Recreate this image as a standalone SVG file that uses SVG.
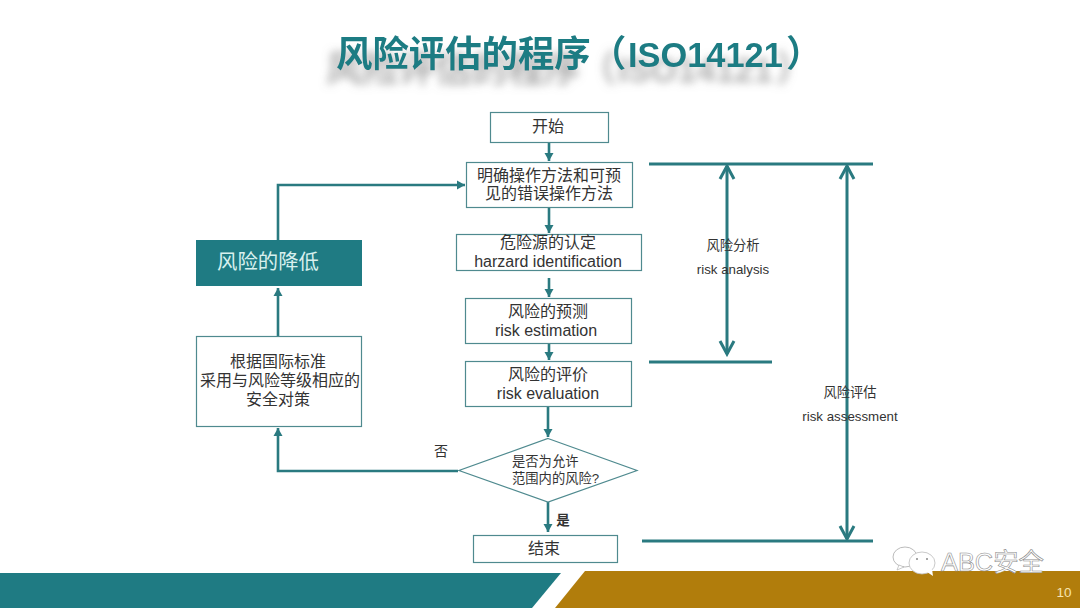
<svg xmlns="http://www.w3.org/2000/svg" width="1080" height="608" viewBox="0 0 1080 608">
<style>
text{font-family:"Liberation Sans","Noto Sans CJK SC",sans-serif;fill:#333;text-anchor:middle}
.box{fill:#fff;stroke:#4f8a8f;stroke-width:1.2}
.t{font-size:16px}
.s{font-size:13.300px}
.l{font-size:13.300px}
.c{fill:none;stroke:#2a7a80;stroke-width:2.6}
.d{fill:none;stroke:#2a7a80;stroke-width:3}
.title{font-size:36.400px;font-weight:700;text-anchor:start;fill:#1f7b83}
.wm{font-size:25.400px;fill:#fff;stroke:#8a8a8a;stroke-width:.6;text-anchor:start}
</style>
<defs>
<marker id="a" markerUnits="userSpaceOnUse" markerWidth="10" markerHeight="10" refX="8" refY="5" orient="auto"><path d="M0 .5L8 5L0 9.500z" fill="#2a7a80"/></marker>
<marker id="o" markerUnits="userSpaceOnUse" markerWidth="18" markerHeight="18" refX="15" refY="9" orient="auto-start-reverse"><path d="M2 2L15 9L2 16" fill="none" stroke="#2a7a80" stroke-width="3"/></marker>
<filter id="b" x="-10%" y="-60%" width="120%" height="240%"><feDropShadow dx="-10" dy="15" stdDeviation="4" flood-color="#777" flood-opacity=".6"/></filter>
</defs>
<rect width="1080" height="608" fill="#fff"/>
<g id="title" filter="url(#b)">
<text class="title" x="336" y="67">风险评估的程序</text>
<text class="title" x="590" y="67">（</text>
<text class="title" x="628" y="67" style="font-size:34.400px">ISO14121</text>
<text class="title" x="786" y="67">）</text>
</g>
<g id="footer">
<path d="M0 573H561L532 608H0z" fill="#1f7b83"/>
<path d="M585 571H1080V608H555z" fill="#b17d0c"/>
<text x="1064" y="597" style="fill:#f6e4b0;font-size:13.500px">10</text>
</g>
<g id="connectors">
<path class="c" marker-end="url(#a)" d="M549 143V161"/>
<path class="c" marker-end="url(#a)" d="M549 208V233"/>
<path class="c" marker-end="url(#a)" d="M549 278V297"/>
<path class="c" marker-end="url(#a)" d="M549 344V360"/>
<path class="c" marker-end="url(#a)" d="M548 407V437"/>
<path class="c" marker-end="url(#a)" d="M548 502V532"/>
<path class="c" marker-end="url(#a)" d="M458 471H278V428"/>
<path class="c" marker-end="url(#a)" d="M278 336V288"/>
<path class="c" marker-end="url(#a)" d="M278 240V185H465"/>
<path class="d" d="M649 164H873M649 362H772M642 541H873"/>
<path class="d" marker-start="url(#o)" marker-end="url(#o)" d="M727 166V354"/>
<path class="d" marker-start="url(#o)" marker-end="url(#o)" d="M847 166V539"/>
</g>
<g id="start"><rect class="box" x="490.500" y="112.500" width="118" height="30"/><text class="t" x="548" y="132">开始</text></g>
<g id="define"><rect class="box" x="466.500" y="162.500" width="166" height="45"/><text class="t" x="549" y="181">明确操作方法和可预</text><text class="t" x="549" y="199">见的错误操作方法</text></g>
<g id="identify"><rect class="box" x="456.500" y="234.500" width="185" height="36"/><text class="t" x="548" y="248">危险源的认定</text><text class="t" x="548" y="267">harzard identification</text></g>
<g id="estimate"><rect class="box" x="465.500" y="298.500" width="166" height="45"/><text class="t" x="548" y="317">风险的预测</text><text class="t" x="546" y="336">risk estimation</text></g>
<g id="evaluate"><rect class="box" x="465.500" y="361.500" width="166" height="45"/><text class="t" x="548" y="380">风险的评价</text><text class="t" x="548" y="399">risk evaluation</text></g>
<g id="decision"><path class="box" d="M548 438.500L637 470.500L548 502L459 470.500z"/><text class="s" x="512" y="466" style="text-anchor:start">是否为允许</text><text class="s" x="512" y="483" style="text-anchor:start">范围内的风险?</text></g>
<g id="end"><rect class="box" x="473.500" y="535.500" width="144" height="27"/><text class="t" x="544" y="554">结束</text></g>
<g id="reduce"><rect x="196" y="240" width="166" height="46" fill="#1f7b83"/><text x="268" y="269" style="fill:#d8f0ee;font-size:20.400px">风险的降低</text></g>
<g id="measures"><rect class="box" x="196.500" y="336.500" width="165" height="90"/><text class="t" x="278" y="367">根据国际标准</text><text class="t" x="280" y="386">采用与风险等级相应的</text><text class="t" x="278" y="405">安全对策</text></g>
<g id="labels">
<text x="441" y="456" style="font-size:14px">否</text>
<text x="563" y="525" style="font-size:13.500px;font-weight:700">是</text>
<text class="l" x="733" y="250">风险分析</text>
<text class="l" x="733" y="274">risk analysis</text>
<text class="l" x="850" y="397">风险评估</text>
<text class="l" x="850" y="421">risk assessment</text>
</g>
<g id="watermark">
<ellipse cx="905" cy="557" rx="12" ry="10" fill="#fff" stroke="#aaa" stroke-width=".8"/>
<path d="M899 565l-2 5 7-3z" fill="#fff" stroke="#aaa" stroke-width=".6"/>
<ellipse cx="922" cy="563" rx="13" ry="11" fill="#fff" stroke="#bbb" stroke-width=".8"/>
<path d="M927 572l6 4-1-7z" fill="#fff"/>
<circle cx="917" cy="559" r="1" fill="#888"/><circle cx="927" cy="559" r="1" fill="#888"/>
<text class="wm" x="941" y="571">ABC安全</text>
</g>
</svg>
